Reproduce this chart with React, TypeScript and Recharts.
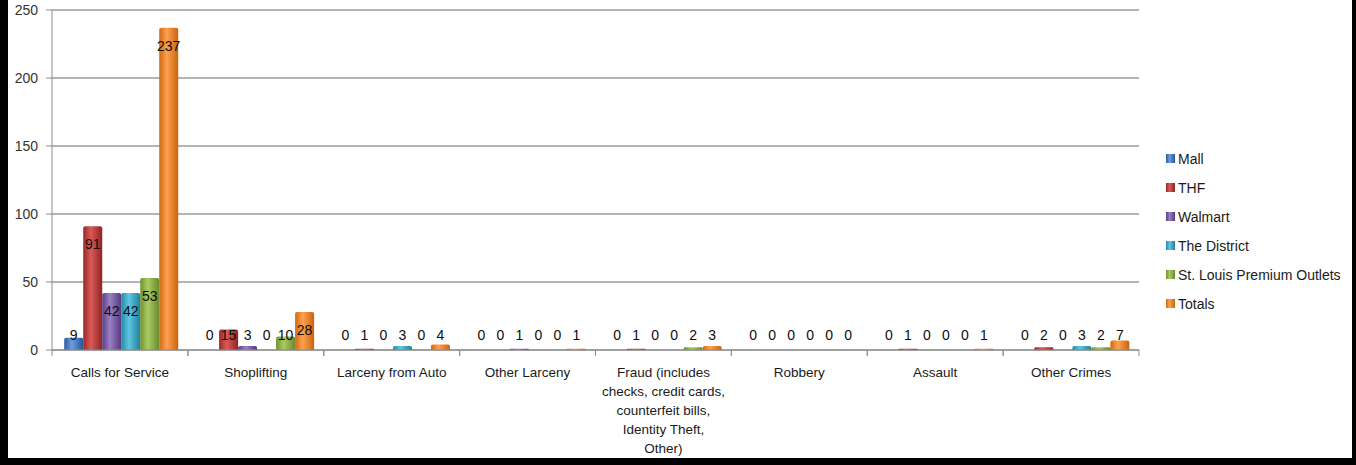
import React from 'react';
import { BarChart, Bar, XAxis, YAxis, CartesianGrid, LabelList } from 'recharts';

const categories = [
  'Calls for Service',
  'Shoplifting',
  'Larceny from Auto',
  'Other Larceny',
  'Fraud (includes checks, credit cards, counterfeit bills, Identity Theft, Other)',
  'Robbery',
  'Assault',
  'Other Crimes',
];

const mall = [9, 0, 0, 0, 0, 0, 0, 0];
const thf = [91, 15, 1, 0, 1, 0, 1, 2];
const walmart = [42, 3, 0, 1, 0, 0, 0, 0];
const district = [42, 0, 3, 0, 0, 0, 0, 3];
const outlets = [53, 10, 0, 0, 2, 0, 0, 2];
const totals = [237, 28, 4, 1, 3, 0, 1, 7];

const yTicks = [0, 50, 100, 150, 200, 250];

// colors: [dark edge, highlight, right edge]
const series = [
  { key: 'mall', name: 'Mall', values: mall, c: ['#2c5a98', '#6a9ee0', '#2a5590'] },
  { key: 'thf', name: 'THF', values: thf, c: ['#982826', '#d95a57', '#8e2422'] },
  { key: 'walmart', name: 'Walmart', values: walmart, c: ['#5a3d85', '#9a7fc4', '#553a7d'] },
  { key: 'district', name: 'The District', values: district, c: ['#2288a6', '#5fc6e2', '#1f809c'] },
  { key: 'outlets', name: 'St. Louis Premium Outlets', values: outlets, c: ['#6f9030', '#a8cc62', '#6a892d'] },
  { key: 'totals', name: 'Totals', values: totals, c: ['#d06a10', '#ffa050', '#c8640d'] },
];

const data = categories.map((cat, i) => {
  const row: Record<string, string | number> = { cat };
  series.forEach((s) => (row[s.key] = s.values[i]));
  return row;
});

const FONT = '"Liberation Sans", Arial, sans-serif';
const CHART_W = 1344;
const CHART_H = 458;
const MARGIN = { top: 10, right: 213, bottom: 0, left: 0 };
const YAXIS_W = 44;
const BAND = (CHART_W - MARGIN.left - MARGIN.right - YAXIS_W) / categories.length;

function wrap(text: string, max: number) {
  const words = text.split(' ');
  const lines: string[] = [];
  let cur = '';
  words.forEach((w) => {
    const next = cur ? cur + ' ' + w : w;
    if (next.length > max && cur) {
      lines.push(cur);
      cur = w;
    } else cur = next;
  });
  if (cur) lines.push(cur);
  return lines;
}

const XTick = (props: any) => {
  const { x, y, payload } = props;
  const half = payload?.offset || BAND / 2;
  const axisY = y - 8;
  const lines = wrap(payload.value, 21);
  return (
    <g>
      <line x1={x - half} x2={x - half} y1={axisY} y2={axisY + 6} stroke="#8c8c8c" />
      <line x1={x + half} x2={x + half} y1={axisY} y2={axisY + 6} stroke="#8c8c8c" />
      <text x={x} y={axisY + 27} textAnchor="middle" fontSize={13.5} fill="#1a1a1a" fontFamily={FONT}>
        {lines.map((l, i) => (
          <tspan key={i} x={x} dy={i === 0 ? 0 : 19}>
            {l}
          </tspan>
        ))}
      </text>
    </g>
  );
};

const ValueLabel = (props: any) => {
  const { x, y, width, height, value } = props;
  const base = y + height;
  const cy = Math.min(y + 18, base - 15);
  return (
    <text x={x + width / 2} y={cy} dy={5} textAnchor="middle" fontSize={14} fill="#0d0d0d" fontFamily={FONT}>
      {value}
    </text>
  );
};

const LegendBox = () => (
  <div
    style={{
      position: 'absolute',
      left: 1158,
      top: 144,
      fontFamily: FONT,
      fontSize: 14,
      color: '#1a1a1a',
    }}
  >
    {series.map((s) => (
      <div key={s.key} style={{ height: 29, display: 'flex', alignItems: 'center', whiteSpace: 'nowrap' }}>
        <span
          style={{
            width: 9,
            height: 9,
            marginRight: 3,
            background: `linear-gradient(90deg, ${s.c[0]}, ${s.c[1]} 40%, ${s.c[2]})`,
          }}
        />
        {s.name}
      </div>
    ))}
  </div>
);

export default function App() {
  return (
    <div style={{ position: 'fixed', left: 0, top: 0, width: 1356, height: 465, background: '#000' }}>
      <div style={{ position: 'absolute', left: 8, top: 0, width: CHART_W, height: CHART_H, background: '#fff' }}>
        <BarChart
          width={CHART_W}
          height={CHART_H}
          data={data}
          margin={MARGIN}
          barGap={0}
          barCategoryGap="9%"
        >
          <defs>
            {series.map((s) => (
              <linearGradient key={s.key} id={`g-${s.key}`} x1="0" y1="0" x2="1" y2="0">
                <stop offset="0%" stopColor={s.c[0]} />
                <stop offset="40%" stopColor={s.c[1]} />
                <stop offset="100%" stopColor={s.c[2]} />
              </linearGradient>
            ))}
          </defs>
          <CartesianGrid vertical={false} stroke="#b4b4b4" strokeWidth={2} />
          <XAxis
            dataKey="cat"
            interval={0}
            height={108}
            stroke="#8c8c8c"
            tickLine={false}
            tickSize={0}
            tickMargin={8}
            tick={<XTick />}
          />
          <YAxis
            width={YAXIS_W}
            domain={[0, 250]}
            ticks={yTicks}
            interval={0}
            stroke="#8c8c8c"
            tickSize={6}
            tickMargin={8}
            tick={{ fontSize: 14, fill: '#333', fontFamily: FONT }}
          />
          {series.map((s) => (
            <Bar
              key={s.key}
              dataKey={s.key}
              name={s.name}
              fill={`url(#g-${s.key})`}
              isAnimationActive={false}
              minPointSize={0.01}
              radius={[2, 2, 0, 0]}
            >
              <LabelList dataKey={s.key} content={<ValueLabel />} />
            </Bar>
          ))}
        </BarChart>
        <LegendBox />
      </div>
    </div>
  );
}
